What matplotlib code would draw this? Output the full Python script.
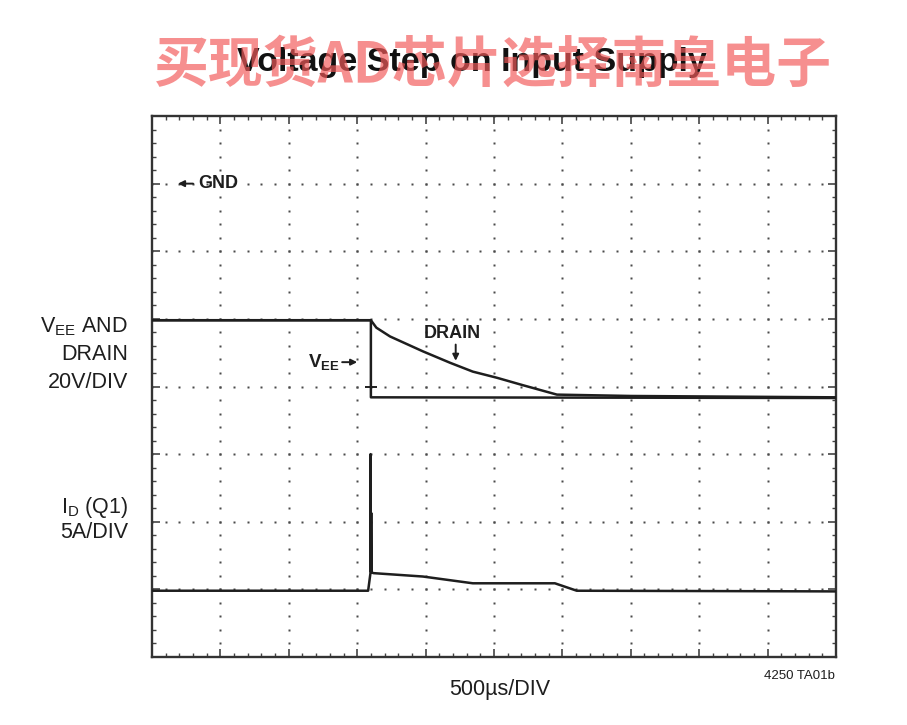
import numpy as np
import matplotlib
matplotlib.use('Agg')
import matplotlib.pyplot as plt

# scope traces, in screen divisions (x: 500us/div, y: 20V/div upper, 5A/div lower)
vee_t = [0.0, 3.2, 3.2, 10.0]
vee_y = [4.98, 4.98, 3.84, 3.83]

drain_t = [0.0, 3.2, 3.28, 3.48, 3.96, 4.36, 4.69, 5.04, 5.42, 5.92, 7.0, 10.0]
drain_y = [4.98, 4.98, 4.87, 4.74, 4.52, 4.35, 4.22, 4.13, 4.02, 3.88, 3.86, 3.84]

id_t = [0.0, 3.16, 3.195, 3.195, 3.20, 3.205, 3.21, 3.24, 3.96, 4.69, 5.89, 6.21, 10.0]
id_y = [0.98, 0.98, 1.25, 3.0, 1.26, 2.13, 1.25, 1.24, 1.19, 1.09, 1.09, 0.98, 0.97]

REG = ['Liberation Sans', 'DejaVu Sans']
INK = '#1e1e1e'

plt.rcParams['mathtext.fontset'] = 'custom'
plt.rcParams['mathtext.rm'] = 'Liberation Sans'
plt.rcParams['mathtext.bf'] = 'Liberation Sans:bold'

W, H = 907, 725
def fx(x): return x / W
def fy(y): return 1 - y / H

fig = plt.figure(figsize=(W / 100, H / 100), dpi=100)
ax = fig.add_axes([fx(152), fy(657), 684 / W, 541 / H])
ax.set_xlim(0, 10)
ax.set_ylim(0, 8)

# graticule: dotted major lines with a dot every minor division
for gx in range(1, 10):
    yy = np.arange(0, 8.01, 0.2)
    ax.plot(np.full(len(yy), gx), yy, 's', ms=1.8, color='#4a4a4a', mec='none', zorder=1)
for gy in range(1, 8):
    xx = np.arange(0, 10.01, 0.2)
    ax.plot(xx, np.full(len(xx), gy), 's', ms=1.8, color='#4a4a4a', mec='none', zorder=1)

ax.set_xticks(range(11))
ax.set_yticks(range(9))
ax.set_xticks(np.arange(0, 10.01, 0.2), minor=True)
ax.set_yticks(np.arange(0, 8.01, 0.2), minor=True)
ax.tick_params(which='both', direction='in', top=True, right=True,
               labelbottom=False, labelleft=False, color='#444')
ax.tick_params(which='major', length=6, width=1.2)
ax.tick_params(which='minor', length=3, width=1.0)
for s in ax.spines.values():
    s.set_linewidth(1.7)
    s.set_color('#333')

ax.plot(drain_t, drain_y, color=INK, lw=1.8, zorder=3)
ax.plot(vee_t, vee_y, color=INK, lw=1.8, zorder=3)
ax.plot(id_t, id_y, color=INK, lw=1.8, zorder=3)
ax.plot([3.2], [4.0], '_', ms=8, mew=1.4, color=INK, zorder=3)

# annotations on the screen
arw = dict(arrowstyle='-|>', lw=1.4, color=INK, mutation_scale=9, shrinkA=0, shrinkB=0)
ax.text(0.68, 7.0, 'GND', ha='left', va='center', fontsize=13, fontweight='bold',
        family=REG, color=INK)
ax.annotate('', xy=(0.38, 7.0), xytext=(0.6, 7.0), arrowprops=arw)
ax.text(4.39, 4.78, 'DRAIN', ha='center', va='center', fontsize=13, fontweight='bold',
        family=REG, color=INK)
ax.annotate('', xy=(4.44, 4.38), xytext=(4.44, 4.62), arrowprops=arw)
ax.text(2.75, 4.35, r'V$_{\mathbf{EE}}$', ha='right', va='center', fontsize=13.5,
        fontweight='bold', family=REG, color=INK)
ax.annotate('', xy=(3.0, 4.36), xytext=(2.78, 4.36), arrowprops=arw)

# side labels
lab = dict(ha='right', va='center', fontsize=15.5, family=REG, color=INK)
fig.text(fx(128), fy(327), r'V$_{\mathregular{EE}}$ AND', **lab)
fig.text(fx(128), fy(355), 'DRAIN', **lab)
fig.text(fx(128), fy(383), '20V/DIV', **lab)
fig.text(fx(128), fy(508), r'I$_{\mathregular{D}}$ (Q1)', **lab)
fig.text(fx(128), fy(532), '5A/DIV', **lab)
fig.text(fx(500), fy(690), '500µs/DIV', ha='center', va='center', fontsize=15.5,
         family=REG, color=INK)
fig.text(fx(835), fy(676), '4250 TA01b', ha='right', va='center', fontsize=9.5,
         family=REG, color=INK)

fig.text(fx(472), fy(62), 'Voltage Step on Input Supply', ha='center', va='center',
         fontsize=24.5, fontweight='bold', family=REG, color='#111')
fig.text(fx(493), fy(65), '买现货AD芯片选择南皇电子', ha='center', va='center',
         fontsize=39.5, fontweight='bold', family=['Noto Sans CJK SC', 'DejaVu Sans'],
         color='#f25a5a', alpha=0.68, zorder=10)

fig.savefig('out.png', dpi=100)
